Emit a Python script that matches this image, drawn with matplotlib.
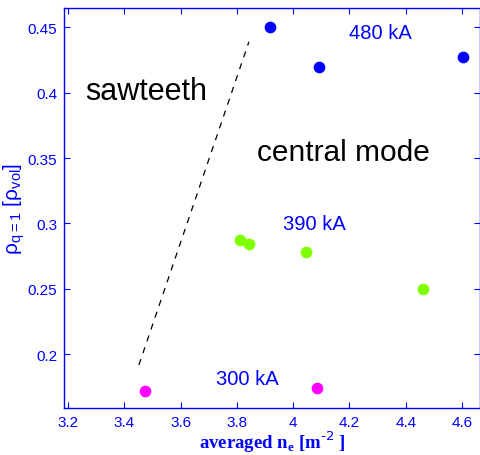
import matplotlib
matplotlib.use('Agg')
import matplotlib.pyplot as plt

# inversion radius vs averaged density for three plasma currents
ne_480 = [3.918, 4.091, 4.603]
rho_480 = [0.450, 0.420, 0.427]
ne_390 = [3.812, 3.845, 4.045, 4.460]
rho_390 = [0.287, 0.284, 0.278, 0.250]
ne_300 = [3.475, 4.085]
rho_300 = [0.172, 0.174]

# boundary between the sawteeth and central mode regions
bound_ne = [3.452, 3.843]
bound_rho = [0.1916, 0.439]

x_ticks = [3.2, 3.4, 3.6, 3.8, 4.0, 4.2, 4.4, 4.6]
x_labels = ['3.2', '3.4', '3.6', '3.8', '4', '4.2', '4.4', '4.6']
y_ticks = [0.2, 0.25, 0.3, 0.35, 0.4, 0.45]
y_labels = ['0.2', '0.25', '0.3', '0.35', '0.4', '0.45']

blue = '#0000ff'
plt.rcParams['font.family'] = ['Liberation Sans', 'DejaVu Sans']

fig = plt.figure(figsize=(4.81, 4.56), dpi=100)
ax = fig.add_axes([64 / 481, 1 - 409 / 456, (480 - 64) / 481, (409 - 9.3) / 456])

ax.scatter(ne_480, rho_480, s=55, color='#0000ff', zorder=3)
ax.scatter(ne_390, rho_390, s=55, color='#80ff00', zorder=3)
ax.scatter(ne_300, rho_300, s=55, color='#ff00ff', zorder=3)
ax.plot(bound_ne, bound_rho, color='black', linestyle=(0, (5, 5)), linewidth=0.9)

ax.text(4.31, 0.4464, '480 kA', color=blue, fontsize=14.5, ha='center', va='center')
ax.text(4.074, 0.300, '390 kA', color=blue, fontsize=14.5, ha='center', va='center')
ax.text(3.836, 0.1816, '300 kA', color=blue, fontsize=14.5, ha='center', va='center')
ax.text(3.26, 0.401, 'sawteeth', color='black', fontsize=22, ha='left', va='center')
ax.text(4.18, 0.355, 'central mode', color='black', fontsize=21.5, ha='center', va='center')

ax.set_xlim(3.186, 4.664)
ax.set_ylim(0.1587, 0.4646)
ax.set_xticks(x_ticks)
ax.set_xticklabels(x_labels)
ax.set_yticks(y_ticks)
ax.set_yticklabels(y_labels)
ax.tick_params(direction='in', top=True, right=True, colors=blue,
               labelsize=11, length=4, width=0.8, pad=5)
for sp in ax.spines.values():
    sp.set_color(blue)
    sp.set_linewidth(1.0)

ax.set_xlabel(r'averaged n$_\mathregular{e}$ [m$^{\text{-2}}$ ]', color=blue,
              fontsize=13.5, fontweight='bold', family='Liberation Serif', labelpad=0)
ax.set_ylabel(r'$\mathregular{\rho_{q=1}}$ [$\mathregular{\rho_{vol}}$]', color=blue,
              fontsize=15, labelpad=0)

fig.savefig('out.png', dpi=100)
